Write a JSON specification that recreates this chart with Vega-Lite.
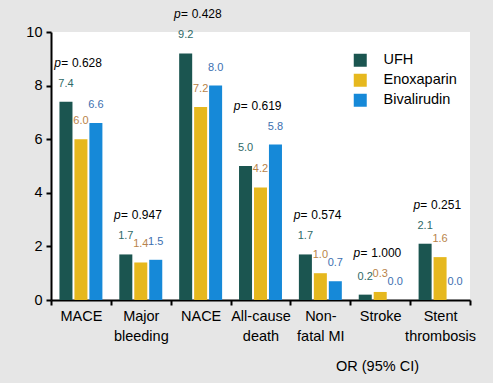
{
  "$schema": "https://vega.github.io/schema/vega-lite/v6.json",
  "width": 419,
  "height": 268,
  "autosize": {"type": "none"},
  "padding": {"left": 51, "top": 32, "right": 23, "bottom": 83},
  "background": "#e6e6e6",
  "config": {
    "view": {"fill": "white", "stroke": null},
    "font": "Liberation Sans",
    "axis": {"domainColor": "black", "domainWidth": 2, "tickColor": "black", "tickWidth": 2, "tickSize": 5, "labelColor": "black", "labelFontSize": 14.5, "grid": false}
  },
  "datasets": {
    "bars": [
      {"cat": "MACE", "series": "UFH", "value": 7.4},
      {"cat": "MACE", "series": "Enoxaparin", "value": 6.0},
      {"cat": "MACE", "series": "Bivalirudin", "value": 6.6},
      {"cat": "Major|bleeding", "series": "UFH", "value": 1.7},
      {"cat": "Major|bleeding", "series": "Enoxaparin", "value": 1.4},
      {"cat": "Major|bleeding", "series": "Bivalirudin", "value": 1.5},
      {"cat": "NACE", "series": "UFH", "value": 9.2},
      {"cat": "NACE", "series": "Enoxaparin", "value": 7.2},
      {"cat": "NACE", "series": "Bivalirudin", "value": 8.0},
      {"cat": "All-cause|death", "series": "UFH", "value": 5.0},
      {"cat": "All-cause|death", "series": "Enoxaparin", "value": 4.2},
      {"cat": "All-cause|death", "series": "Bivalirudin", "value": 5.8},
      {"cat": "Non-|fatal MI", "series": "UFH", "value": 1.7},
      {"cat": "Non-|fatal MI", "series": "Enoxaparin", "value": 1.0},
      {"cat": "Non-|fatal MI", "series": "Bivalirudin", "value": 0.7},
      {"cat": "Stroke", "series": "UFH", "value": 0.2},
      {"cat": "Stroke", "series": "Enoxaparin", "value": 0.3},
      {"cat": "Stroke", "series": "Bivalirudin", "value": 0.0},
      {"cat": "Stent|thrombosis", "series": "UFH", "value": 2.1},
      {"cat": "Stent|thrombosis", "series": "Enoxaparin", "value": 1.6},
      {"cat": "Stent|thrombosis", "series": "Bivalirudin", "value": 0.0}
    ],
    "pvals": [
      {"cat": "MACE", "top": 7.4, "p": "0.628"},
      {"cat": "Major|bleeding", "top": 1.7, "p": "0.947"},
      {"cat": "NACE", "top": 9.2, "p": "0.428"},
      {"cat": "All-cause|death", "top": 5.8, "p": "0.619"},
      {"cat": "Non-|fatal MI", "top": 1.7, "p": "0.574"},
      {"cat": "Stroke", "top": 0.3, "p": "1.000"},
      {"cat": "Stent|thrombosis", "top": 2.1, "p": "0.251"}
    ]
  },
  "layer": [
    {
      "data": {"name": "bars"},
      "mark": {"type": "bar"},
      "encoding": {
        "x": {"field": "cat", "type": "nominal", "sort": ["MACE", "Major|bleeding", "NACE", "All-cause|death", "Non-|fatal MI", "Stroke", "Stent|thrombosis"], "scale": {"paddingInner": 0, "paddingOuter": 0},
          "axis": {"labelAngle": 0, "tickBand": "extent", "labelExpr": "isValid(datum.value) ? split(datum.value, '|') : ''", "labelLineHeight": 20, "labelPadding": 4, "title": "OR (95% CI)", "titleFontSize": 14.5, "titleFontWeight": "normal", "titleX": 326, "titleY": 70, "titleAlign": "center", "titleBaseline": "alphabetic"}},
        "xOffset": {"field": "series", "type": "nominal", "sort": ["UFH", "Enoxaparin", "Bivalirudin"], "scale": {"paddingInner": 0.13, "paddingOuter": 0.565}},
        "y": {"field": "value", "type": "quantitative", "scale": {"domain": [0, 10]}, "axis": {"values": [0, 2, 4, 6, 8, 10], "title": null, "labelPadding": 4}},
        "color": {"field": "series", "type": "nominal", "sort": ["UFH", "Enoxaparin", "Bivalirudin"],
          "scale": {"domain": ["UFH", "Enoxaparin", "Bivalirudin"], "range": ["#1b5550", "#e6b81e", "#1689d8"]},
          "legend": {"title": null, "orient": "none", "legendX": 302, "legendY": 21, "symbolType": "square", "symbolSize": 169, "symbolStrokeWidth": 0, "labelFontSize": 14.5, "labelColor": "black", "labelOffset": 16, "rowPadding": 5, "padding": 0}}
      }
    },
    {
      "data": {"name": "bars"},
      "mark": {"type": "text", "dy": -15, "baseline": "alphabetic", "fontSize": 11},
      "encoding": {
        "x": {"field": "cat", "type": "nominal", "sort": ["MACE", "Major|bleeding", "NACE", "All-cause|death", "Non-|fatal MI", "Stroke", "Stent|thrombosis"]},
        "xOffset": {"field": "series", "type": "nominal", "sort": ["UFH", "Enoxaparin", "Bivalirudin"]},
        "y": {"field": "value", "type": "quantitative"},
        "text": {"field": "value", "type": "quantitative", "format": ".1f"},
        "color": {"field": "series", "type": "nominal", "scale": {"domain": ["UFH", "Enoxaparin", "Bivalirudin"], "range": ["#2f6a68", "#b8834a", "#3c6fb0"]}, "legend": null}
      }
    },
    {
      "data": {"name": "pvals"},
      "mark": {"type": "text", "dy": -35, "dx": -13, "align": "right", "baseline": "alphabetic", "fontSize": 12, "fontStyle": "italic", "color": "black", "text": "p="},
      "encoding": {
        "x": {"field": "cat", "type": "nominal", "sort": ["MACE", "Major|bleeding", "NACE", "All-cause|death", "Non-|fatal MI", "Stroke", "Stent|thrombosis"]},
        "y": {"field": "top", "type": "quantitative"}
      }
    },
    {
      "data": {"name": "pvals"},
      "mark": {"type": "text", "dy": -35, "dx": -9, "align": "left", "baseline": "alphabetic", "fontSize": 12, "color": "black"},
      "encoding": {
        "x": {"field": "cat", "type": "nominal", "sort": ["MACE", "Major|bleeding", "NACE", "All-cause|death", "Non-|fatal MI", "Stroke", "Stent|thrombosis"]},
        "y": {"field": "top", "type": "quantitative"},
        "text": {"field": "p", "type": "nominal"}
      }
    }
  ],
  "resolve": {"scale": {"color": "independent"}}
}
